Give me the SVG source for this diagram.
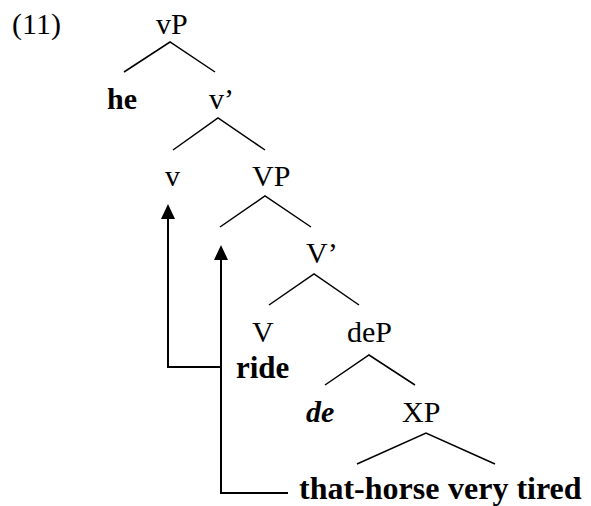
<svg xmlns="http://www.w3.org/2000/svg" width="591" height="506" viewBox="0 0 591 506">
<defs>
<style>
text{font-family:"Liberation Serif","Times New Roman",serif;font-size:30px;fill:#000}
.b{font-weight:bold}
.bi{font-weight:bold;font-style:italic}
.l{stroke:#000;stroke-width:1.5;fill:none}
.a{stroke:#000;stroke-width:2;fill:none}
</style>
</defs>
<rect width="591" height="506" fill="#fff"/>
<text x="12" y="34">(11)</text>
<g id="vP"><text x="156" y="34">vP</text></g>
<g id="he"><text class="b" x="107" y="109">he</text></g>
<g id="v1"><text x="209" y="109">v’</text></g>
<g id="v"><text x="165" y="186">v</text></g>
<g id="VP"><text x="252" y="186">VP</text></g>
<g id="V1"><text x="306" y="263">V’</text></g>
<g id="V"><text x="252" y="342">V</text></g>
<g id="deP"><text x="347" y="342">deP</text></g>
<g id="ride"><text class="b" x="236" y="378" style="font-size:31px">ride</text></g>
<g id="de"><text class="bi" x="306" y="422">de</text></g>
<g id="XP"><text x="402" y="422">XP</text></g>
<g id="thathorse"><text class="b" y="499" style="font-size:32px"><tspan x="299">that-horse</tspan> <tspan x="448">very tired</tspan></text></g>
<g id="connectors">
<path class="l" d="M124,72 L170,42 L215,72"/>
<path class="l" d="M173,150 L218,118 L265,150"/>
<path class="l" d="M220,227 L265,196 L311,227"/>
<path class="l" d="M269,305 L314,274 L359,305"/>
<path class="l" d="M325,385 L369,355 L415,385"/>
<path class="l" d="M357,464 L426,433 L495,464"/>
<path d="M161,219 L168,204 L175,219 Z" fill="#000"/>
<path class="a" d="M221,367 L168,367 L168,218"/>
<path d="M214,260 L221,245 L228,260 Z" fill="#000"/>
<path class="a" d="M288,493 L221,493 L221,259"/>
</g>
</svg>
